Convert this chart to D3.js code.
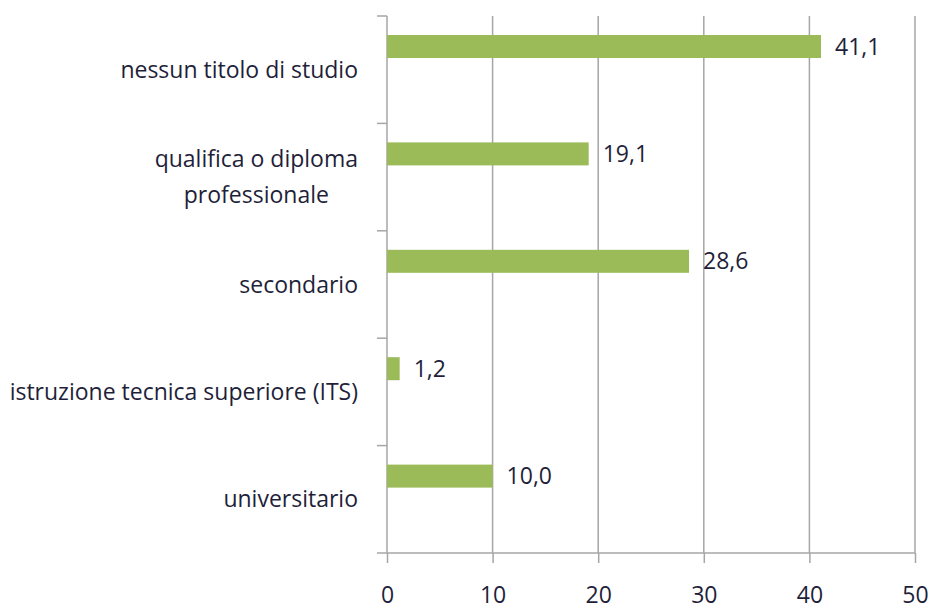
<!DOCTYPE html>
<html>
<head>
<meta charset="utf-8">
<script src="https://cdn.jsdelivr.net/npm/d3@7"></script>
<style>
  body { margin: 0; background: #fff; }
  svg text { font-family: "Open Sans", sans-serif; fill: #1f1f3a; }
</style>
</head>
<body>
<svg width="932" height="612"></svg>
<script>
// data
var categories = [
  ["nessun titolo di studio"],
  ["qualifica o diploma", "professionale"],
  ["secondario"],
  ["istruzione tecnica superiore (ITS)"],
  ["universitario"]
];
var values = [41.1, 19.1, 28.6, 1.2, 10.0];
var xTicks = [0, 10, 20, 30, 40, 50];

var svg = d3.select("svg");
var margin = {top: 16, right: 17, bottom: 59, left: 387};
var width = 932 - margin.left - margin.right;
var height = 612 - margin.top - margin.bottom;
var fs = 23;

var g = svg.append("g").attr("transform", "translate(" + margin.left + "," + margin.top + ")");

var x = d3.scaleLinear().domain([0, 50]).range([0, width]);
var y = d3.scaleBand().domain(d3.range(values.length)).range([0, height]);

var grey = "#a6a6a6";

// gridlines
g.selectAll(".grid")
  .data(xTicks.slice(1))
  .enter().append("line")
    .attr("x1", d => x(d)).attr("x2", d => x(d))
    .attr("y1", 0).attr("y2", height)
    .attr("stroke", grey).attr("stroke-width", 1.5);

// x axis
var xAxis = g.append("g")
  .attr("transform", "translate(0," + height + ")")
  .call(d3.axisBottom(x).tickValues(xTicks).tickSize(10).tickPadding(24).tickFormat(d3.format("d")));
xAxis.select(".domain").attr("stroke", grey).attr("stroke-width", 1.5).attr("d", "M0,0H" + width);
xAxis.selectAll(".tick line").attr("stroke", grey).attr("stroke-width", 1.5);
xAxis.selectAll(".tick text").attr("font-size", fs).attr("font-family", null).style("fill", "#1f1f3a");

// y axis line and separators
g.append("line")
  .attr("x1", 0).attr("x2", 0).attr("y1", 0).attr("y2", height)
  .attr("stroke", grey).attr("stroke-width", 1.5);
g.selectAll(".sep")
  .data(d3.range(values.length + 1))
  .enter().append("line")
    .attr("x1", -10).attr("x2", 0)
    .attr("y1", d => d * y.step()).attr("y2", d => d * y.step())
    .attr("stroke", grey).attr("stroke-width", 1.5);

// bars
var barOffset = 19, barH = 23;
g.selectAll(".bar")
  .data(values)
  .enter().append("rect")
    .attr("x", 0)
    .attr("y", (d, i) => y(i) + barOffset)
    .attr("width", d => x(d))
    .attr("height", barH)
    .attr("fill", "#9bbb59");

// value labels
g.selectAll(".val")
  .data(values)
  .enter().append("text")
    .attr("x", d => x(d) + 14)
    .attr("y", (d, i) => y(i) + barOffset + barH / 2)
    .attr("dy", "0.35em")
    .attr("font-size", fs)
    .text(d => d3.format(".1f")(d).replace(".", ","));

// category labels
categories.forEach(function(lines, i) {
  var t = g.append("text")
    .attr("font-size", fs)
    .attr("text-anchor", "middle");
  var cy = y(i) + y.bandwidth() / 2;
  lines.forEach(function(l, j) {
    t.append("tspan")
      .attr("x", 0)
      .attr("y", cy + (j - (lines.length - 1) / 2) * 36)
      .attr("dy", "0.35em")
      .text(l);
  });
  // right-align block, center lines within it
  var bw = t.node().getBBox().width;
  t.selectAll("tspan").attr("x", -29 - bw / 2);
});
</script>
</body>
</html>
